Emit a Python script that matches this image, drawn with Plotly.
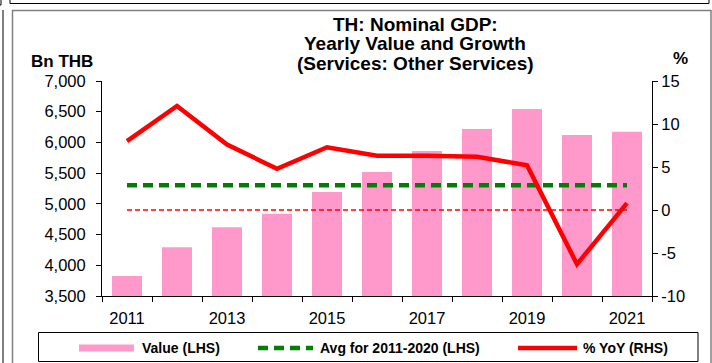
import plotly.graph_objects as go

# ---- data ----
years = [2011, 2012, 2013, 2014, 2015, 2016, 2017, 2018, 2019, 2020, 2021]
value_bn_thb = [3826, 4293, 4618, 4840, 5193, 5518, 5860, 6218, 6544, 6121, 6172]
yoy_pct = [8.0, 12.1, 7.6, 4.8, 7.3, 6.3, 6.3, 6.2, 5.2, -6.3, 0.8]
zero_ref = [0] * len(years)
label_years = [2011, 2013, 2015, 2017, 2019, 2021]
rhs_ticks = [-10, -5, 0, 5, 10, 15]
rhs_ticktext = ["-10", "-5", "0", "5", "10", "15"]

# average of the 2011-2020 values, drawn across the whole span
avg_2011_2020 = sum(value_bn_thb[:10]) / 10
avg_line = [avg_2011_2020] * len(years)

W, H = 712, 363
L, R, T, B = 102, 652, 81, 296          # plot area in pixels

def px(x):
    return (x - L) / (R - L)

def py(y):
    return (B - y) / (B - T)

FONT = "Liberation Sans, Arial, sans-serif"
PINK = "#FF99CC"
GREEN = "#008000"
RED = "#FF0000"

fig = go.Figure()

fig.add_trace(go.Bar(
    x=years, y=value_bn_thb, width=0.6, marker=dict(color=PINK, line=dict(width=0)),
    name="Value (LHS)", yaxis="y"))

fig.add_trace(go.Scatter(
    x=years, y=avg_line, mode="lines", name="Avg for 2011-2020 (LHS)",
    line=dict(color=GREEN, width=4.5, dash="10px,6px"), yaxis="y"))

fig.add_trace(go.Scatter(
    x=years, y=zero_ref, mode="lines", showlegend=False,
    line=dict(color=RED, width=1.7, dash="5px,3px"), yaxis="y2"))

fig.add_trace(go.Scatter(
    x=years, y=yoy_pct, mode="lines", name="% YoY (RHS)",
    line=dict(color=RED, width=4.5), yaxis="y2"))

tick_font = dict(family=FONT, size=16.5, color="black")

fig.update_layout(
    width=W, height=H, autosize=False,
    margin=dict(l=L, r=W - R, t=T, b=H - B, pad=0),
    paper_bgcolor="white", plot_bgcolor="white",
    showlegend=False,
    font=dict(family=FONT, color="black"),
    xaxis=dict(
        range=[2010.5, 2021.5], tickmode="array", tickvals=label_years,
        ticktext=[str(y) for y in label_years], ticks="outside", ticklen=5,
        tickcolor="rgba(0,0,0,0)", ticklabelstandoff=2,
        minor=dict(tickmode="array", tickvals=[y - 0.5 for y in years] + [years[-1] + 0.5],
                   ticks="outside", ticklen=5, tickwidth=1, tickcolor="black"),
        showline=True, linecolor="black", linewidth=1,
        showgrid=False, zeroline=False, tickfont=tick_font, fixedrange=True),
    yaxis=dict(
        range=[3500, 7000], dtick=500, tick0=3500, tickformat=",",
        ticks="outside", ticklen=5, tickcolor="black", ticklabelstandoff=7,
        showline=True, linecolor="black", linewidth=1,
        showgrid=False, zeroline=False, tickfont=tick_font),
    yaxis2=dict(
        range=[-10, 15], tickmode="array", tickvals=rhs_ticks, ticktext=rhs_ticktext,
        overlaying="y", side="right", anchor="x",
        ticks="outside", ticklen=5, tickcolor="black",
        showline=True, linecolor="black", linewidth=1,
        showgrid=False, zeroline=False, tickfont=tick_font),
    bargap=0.4,
)

# ---- title and axis captions ----
title_lines = ["TH: Nominal GDP:", "Yearly Value and Growth", "(Services: Other Services)"]
for line, yc in zip(title_lines, [25, 44, 63]):
    fig.add_annotation(x=px(415), y=py(yc), xref="paper", yref="paper",
                       text=f"<b>{line}</b>", showarrow=False,
                       xanchor="center", yanchor="middle",
                       font=dict(family=FONT, size=19, color="black"))

fig.add_annotation(x=px(62), y=py(61), xref="paper", yref="paper", text="<b>Bn THB</b>",
                   showarrow=False, xanchor="center", yanchor="middle",
                   font=dict(family=FONT, size=17, color="black"))
fig.add_annotation(x=px(680), y=py(58), xref="paper", yref="paper", text="<b>%</b>",
                   showarrow=False, xanchor="center", yanchor="middle",
                   font=dict(family=FONT, size=17, color="black"))

# ---- frames ----
shapes = []

def seg(x0, y0, x1, y1, color="black", width=1):
    shapes.append(dict(type="line", xref="paper", yref="paper",
                       x0=px(x0), y0=py(y0), x1=px(x1), y1=py(y1),
                       line=dict(color=color, width=width)))

# chart frame
shapes.append(dict(type="rect", xref="paper", yref="paper",
                   x0=px(12.5), y0=py(10.5), x1=px(711), y1=py(380),
                   line=dict(color="#808080", width=1.5), fillcolor="rgba(0,0,0,0)"))
# neighbouring panels
seg(10, -5, 10, 3.5)
seg(10, 3.5, 709, 3.5)
seg(709, -5, 709, 3.5)
seg(3, 10, 3, 380)
seg(1, -5, 1, 5)
seg(-5, 5, 1, 5)

# legend box
shapes.append(dict(type="rect", xref="paper", yref="paper",
                   x0=px(38.5), y0=py(332.5), x1=px(698), y1=py(361.5),
                   line=dict(color="black", width=1), fillcolor="white", layer="below"))
# legend symbols
shapes.append(dict(type="rect", xref="paper", yref="paper",
                   x0=px(79), y0=py(344.5), x1=px(134), y1=py(351.5),
                   line=dict(width=0), fillcolor=PINK))
shapes.append(dict(type="line", xref="paper", yref="paper",
                   x0=px(258), y0=py(348), x1=px(313), y1=py(348),
                   line=dict(color=GREEN, width=4.5, dash="10px,6px")))
shapes.append(dict(type="line", xref="paper", yref="paper",
                   x0=px(518), y0=py(348), x1=px(577), y1=py(348),
                   line=dict(color=RED, width=4.5)))

fig.update_layout(shapes=shapes)

legend_items = [("Value (LHS)", 140), ("Avg for 2011-2020 (LHS)", 318), ("% YoY (RHS)", 581)]
for text, xl in legend_items:
    fig.add_annotation(x=px(xl), y=py(348), xref="paper", yref="paper",
                       text=f"<b>{text}</b>", showarrow=False,
                       xanchor="left", yanchor="middle",
                       font=dict(family=FONT, size=14, color="black"))

fig.write_html("out.html")
